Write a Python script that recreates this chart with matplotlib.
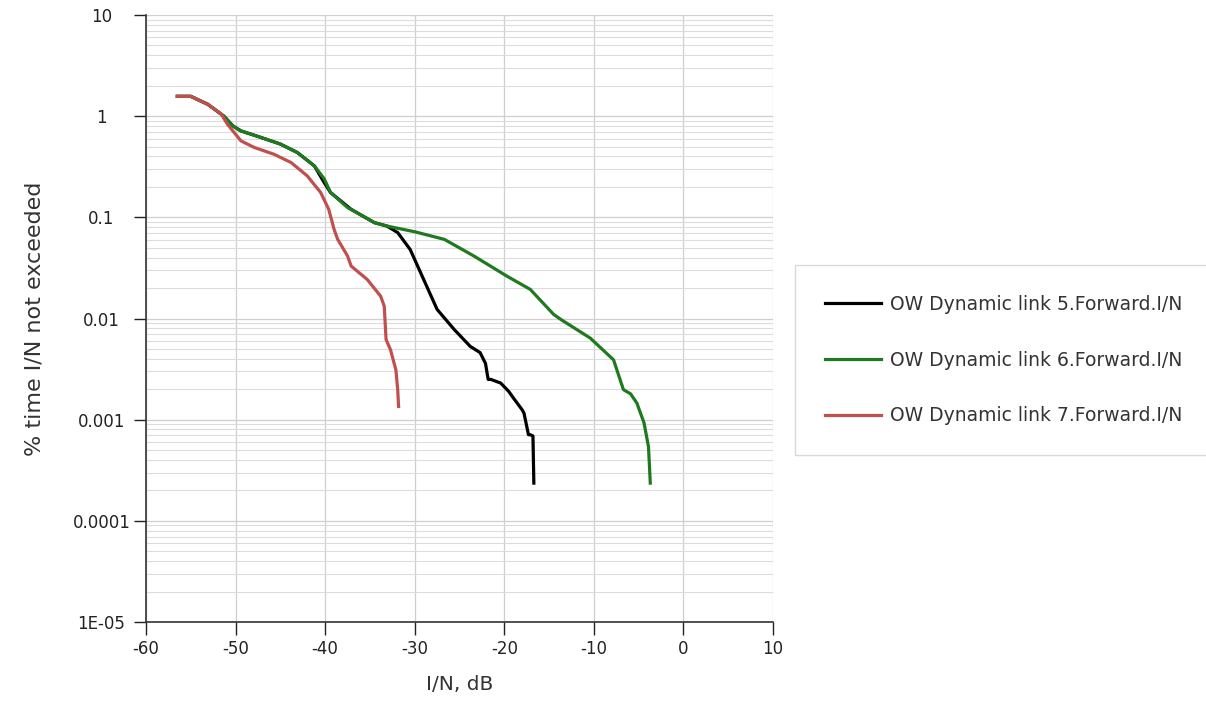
import matplotlib
matplotlib.use("Agg")
import matplotlib.pyplot as plt
from matplotlib.ticker import FixedLocator, NullFormatter, LogLocator

# ---- data ----
link5_x = [-56.5, -55.0, -53.1, -51.3, -50.3, -49.4, -47.5, -45.0, -43.1, -41.2,
           -40.1, -39.4, -37.1, -34.5, -33.1, -31.9, -30.5, -29.0, -27.5, -25.6,
           -23.8, -22.7, -22.1, -21.8, -21.5, -20.4, -19.5, -18.9, -18.0, -17.8,
           -17.3, -17.1, -16.8, -16.7]
link5_y = [1.57, 1.57, 1.31, 1.0, 0.80, 0.715, 0.63, 0.53, 0.437, 0.322,
           0.22, 0.176, 0.12, 0.0886, 0.082, 0.0707, 0.048, 0.0243, 0.0123, 0.0078,
           0.0053, 0.0046, 0.0036, 0.0025, 0.0025, 0.0023, 0.0019, 0.0016, 0.00125, 0.00116,
           0.00071, 0.00071, 0.00069, 0.000236]

link6_x = [-56.5, -55.0, -53.1, -51.3, -50.3, -49.4, -47.5, -45.0, -43.1, -41.2,
           -40.1, -39.4, -37.5, -34.5, -33.1, -30.0, -26.7, -23.4, -19.7, -17.1,
           -14.5, -13.7, -10.4, -7.8, -6.7, -5.9, -5.2, -4.4, -3.9, -3.7]
link6_y = [1.57, 1.57, 1.31, 1.0, 0.80, 0.715, 0.63, 0.53, 0.437, 0.322,
           0.24, 0.176, 0.125, 0.0886, 0.082, 0.072, 0.0606, 0.0415, 0.0262, 0.0194,
           0.011, 0.0098, 0.0064, 0.0039, 0.00198, 0.0018, 0.00146, 0.00093, 0.00054, 0.000236]

link7_x = [-56.5, -55.0, -53.1, -51.6, -50.9, -49.4, -47.9, -45.7, -43.8, -42.0,
           -40.5, -39.6, -39.0, -38.6, -37.5, -37.1, -35.3, -33.8, -33.4, -33.2,
           -32.7, -32.1, -31.9, -31.8]
link7_y = [1.57, 1.57, 1.31, 1.05, 0.83, 0.57, 0.49, 0.42, 0.348, 0.257,
           0.176, 0.12, 0.076, 0.0606, 0.0415, 0.033, 0.0243, 0.0166, 0.0132, 0.0062,
           0.0049, 0.0031, 0.00198, 0.00135]

series_labels = ["OW Dynamic link 5.Forward.I/N",
                 "OW Dynamic link 6.Forward.I/N",
                 "OW Dynamic link 7.Forward.I/N"]
series_colors = ["#000000", "#1f7a1f", "#c0504d"]

x_ticks = [-60, -50, -40, -30, -20, -10, 0, 10]
y_ticks = [10, 1, 0.1, 0.01, 0.001, 0.0001, 1e-05]
y_tick_labels = ["10", "1", "0.1", "0.01", "0.001", "0.0001", "1E-05"]

plt.rcParams['font.family'] = ['DejaVu Sans']

W, H = 1206, 725
fig = plt.figure(figsize=(W / 100, H / 100), dpi=100)
ax = fig.add_axes([146/W, 1-622/H, (773-146)/W, (622-15)/H])

for xs, ys, lab, col in zip([link5_x, link6_x, link7_x], [link5_y, link6_y, link7_y],
                            series_labels, series_colors):
    ax.plot(xs, ys, color=col, lw=2.3, label=lab, solid_joinstyle='round')

ax.set_yscale('log')
ax.set_xlim(-60, 10)
ax.set_ylim(1e-05, 10)
ax.set_xticks(x_ticks)
ax.set_xticklabels([str(v) for v in x_ticks])
ax.yaxis.set_major_locator(FixedLocator(y_ticks))
ax.set_yticklabels(y_tick_labels)
ax.yaxis.set_minor_locator(LogLocator(base=10, subs=range(2, 10), numticks=20))
ax.yaxis.set_minor_formatter(NullFormatter())
ax.tick_params(axis='y', which='minor', length=0)
ax.tick_params(axis='both', which='major', length=9, width=1, direction='out',
               labelsize=12, colors='#222222')
ax.tick_params(axis='y', which='major', pad=23)
ax.tick_params(axis='x', which='major', pad=4)
for lbl in ax.get_yticklabels():
    lbl.set_horizontalalignment('center')

ax.grid(True, which='major', axis='both', color='#cfcfcf', lw=0.9)
ax.grid(True, which='minor', axis='y', color='#dcdcdc', lw=0.8)
ax.set_axisbelow(True)

for s in ['top', 'right']:
    ax.spines[s].set_visible(False)
for s in ['left', 'bottom']:
    ax.spines[s].set_color('#333333')
    ax.spines[s].set_linewidth(1.2)

ax.set_xlabel("I/N, dB", fontsize=14.5, color='#333333', labelpad=12)
ax.set_ylabel("% time I/N not exceeded", fontsize=16, color='#333333', labelpad=20)

leg = fig.legend(loc='upper left', bbox_to_anchor=(795/W, 1-265/H),
                 fontsize=13.5, frameon=True, fancybox=False, handlelength=3.0,
                 labelspacing=1.95, borderpad=1.6, handletextpad=0.45, borderaxespad=0)
leg.get_frame().set_edgecolor('#d0d0d0')
leg.get_frame().set_linewidth(1.0)
for t in leg.get_texts():
    t.set_color('#333333')

fig.savefig("out.png", dpi=100)
